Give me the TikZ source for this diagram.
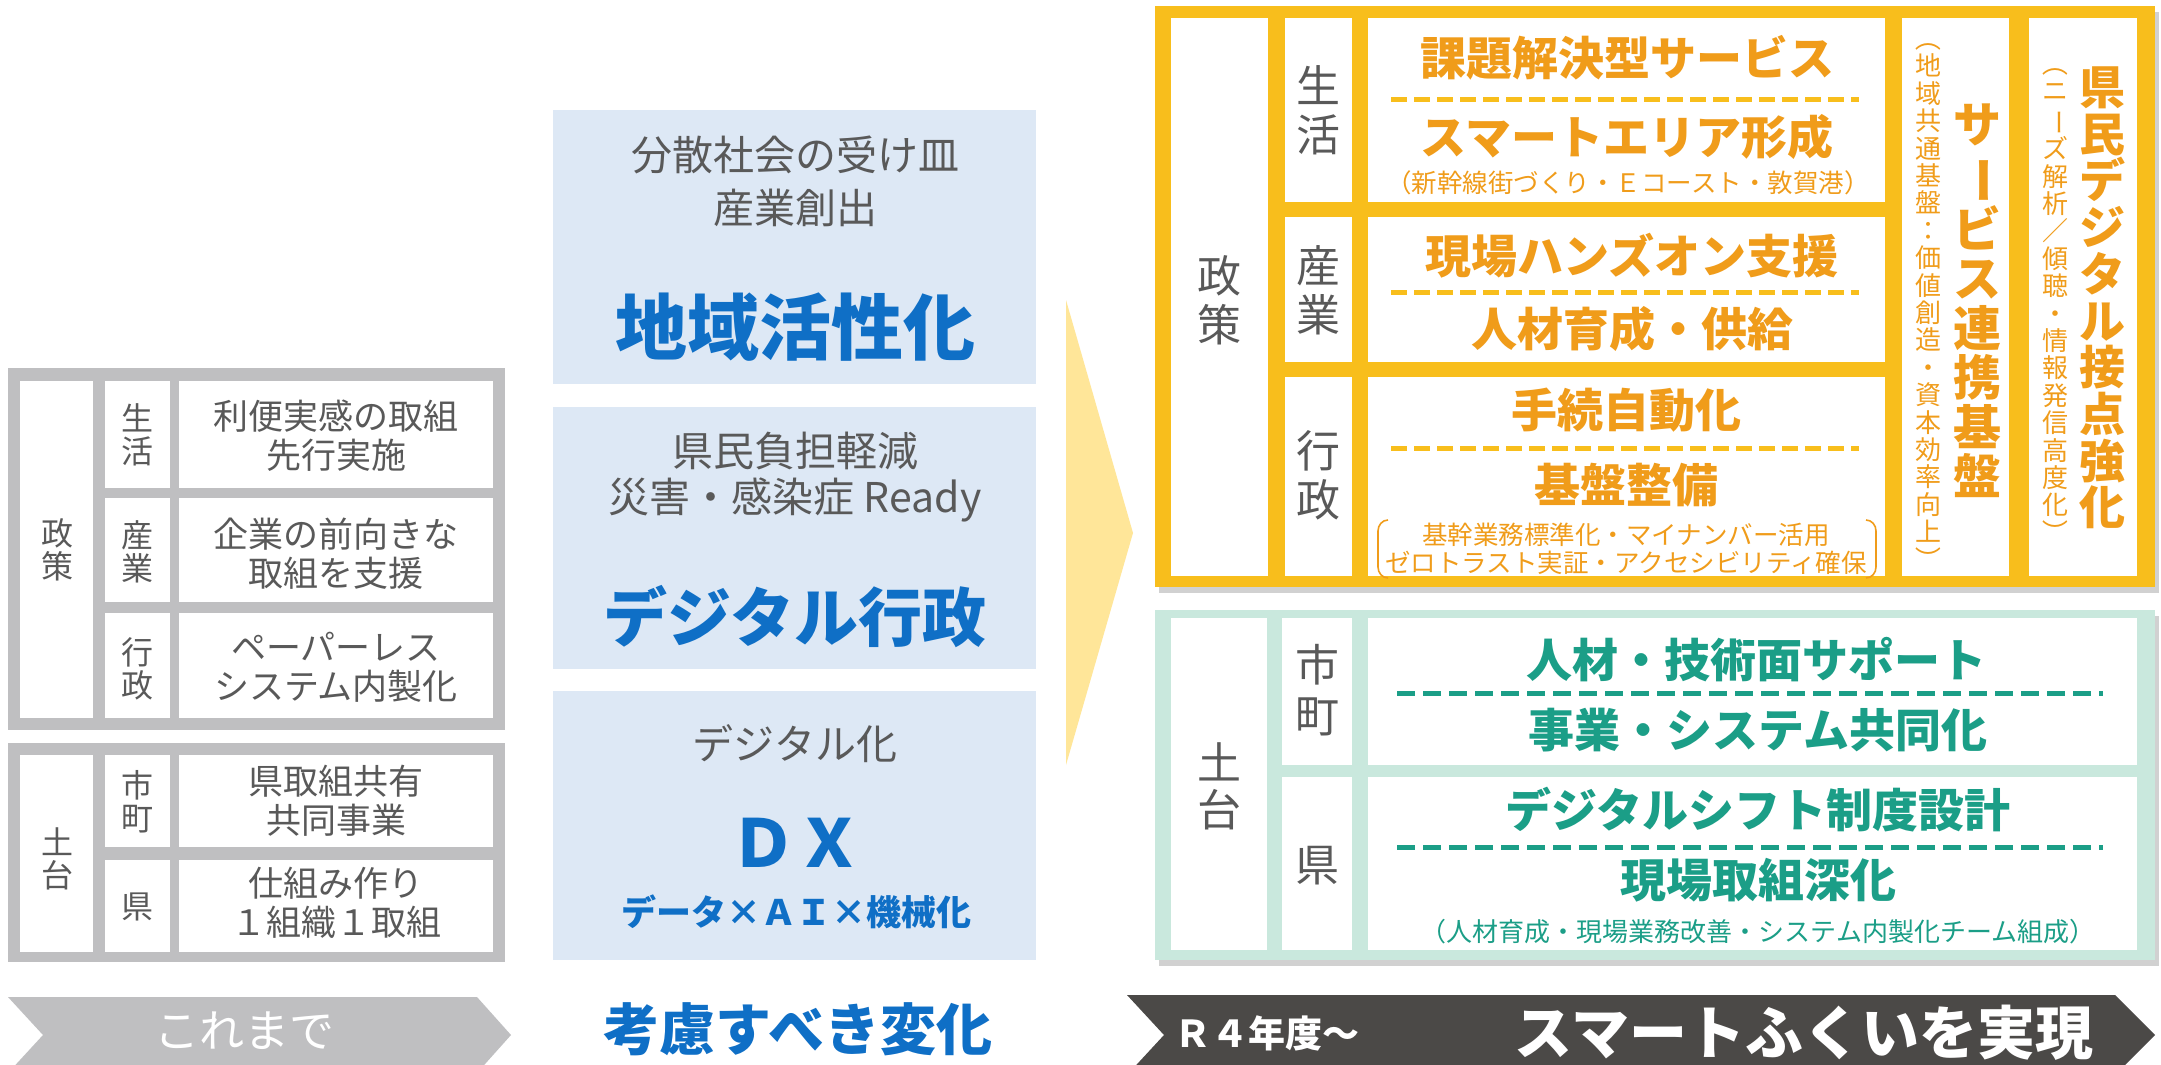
\documentclass[tikz,border=0pt]{standalone}
\usepackage{fontspec}
\setmainfont{Noto Sans CJK JP}
\usepackage{graphicx}
\definecolor{gpanel}{HTML}{BFBFC1}
\definecolor{txtgray}{HTML}{595959}
\definecolor{bluebox}{HTML}{DDE8F5}
\definecolor{bluetxt}{HTML}{0F6FC6}
\definecolor{arrowy}{HTML}{FFE699}
\definecolor{ygold}{HTML}{F8BE1C}
\definecolor{yorange}{HTML}{F09C1A}
\definecolor{tealbox}{HTML}{C9E8DD}
\definecolor{tealtxt}{HTML}{1B9E87}
\definecolor{darkb}{HTML}{4B4947}
\newcommand{\rotch}[1]{\rotatebox[origin=c]{-90}{#1}}
\begin{document}
\begin{tikzpicture}[x=1pt,y=-1pt,
  txt/.style={align=center, inner sep=0pt},
  gtxt/.style={txt, text=txtgray, font=\fontsize{35}{39}\selectfont},
  glab/.style={txt, text=txtgray, font=\fontsize{32}{33}\selectfont},
  mtxt/.style={txt, text=txtgray, font=\fontsize{41}{50}\selectfont},
  btxt/.style={txt, text=bluetxt, font=\bfseries\fontsize{#1}{#1}\selectfont},
  rlab/.style={txt, text=txtgray, font=\fontsize{44}{49}\selectfont},
  otxt/.style={txt, text=yorange, font=\bfseries\fontsize{46}{48}\selectfont},
  osmall/.style={txt, text=yorange, font=\fontsize{25.5}{28}\selectfont},
  overt/.style={txt, text=yorange, font=\fontsize{26}{27.4}\selectfont},
  ttxt/.style={txt, text=tealtxt, font=\bfseries\fontsize{46}{48}\selectfont},
  tsmall/.style={txt, text=tealtxt, font=\fontsize{26}{28}\selectfont},
  ydash/.style={draw=ygold, line width=5pt, dash pattern=on 16pt off 7pt},
  tdash/.style={draw=tealtxt, line width=5pt, dash pattern=on 18pt off 8pt},
  shadowbox/.style={fill=black, opacity=0.18}
]
\useasboundingbox (0,0) rectangle (2161,1065);
\fill[white] (0,0) rectangle (2161,1065);

% ---------------- left panel (gray)
\fill[gpanel] (8,368) rectangle (505,730);
\fill[white] (20,381) rectangle (93,718);
\foreach \a/\b in {381/488, 498/602, 613/718}{
  \fill[white] (105,\a) rectangle (170,\b);
  \fill[white] (179,\a) rectangle (493,\b);
}
\fill[gpanel] (8,743) rectangle (505,962);
\fill[white] (20,755) rectangle (93,952);
\foreach \a/\b in {755/847, 860/952}{
  \fill[white] (105,\a) rectangle (170,\b);
  \fill[white] (179,\a) rectangle (493,\b);
}
\node[glab] (lseisaku) at (57,550) {政\\策};
\node[glab] (lseikatsu) at (137,435) {生\\活};
\node[glab] (lsangyo) at (137,552) {産\\業};
\node[glab] (lgyosei) at (137,669) {行\\政};
\node[glab] (ldodai) at (57,859) {土\\台};
\node[glab] (lshicho) at (137,802) {市\\町};
\node[glab] (lken) at (137,907) {県};
\node[gtxt] (lc1) at (336,436) {利便実感の取組\\先行実施};
\node[gtxt] (lc2) at (336,554) {企業の前向きな\\取組を支援};
\node[gtxt] (lc3) at (336,667) {ペーパーレス\\システム内製化};
\node[gtxt] (lc4) at (336,801) {県取組共有\\共同事業};
\node[gtxt] (lc5) at (336,903) {仕組み作り\\１組織１取組};

% ---------------- middle (blue)
\fill[bluebox] (553,110) rectangle (1036,384);
\fill[bluebox] (553,407) rectangle (1036,669);
\fill[bluebox] (553,691) rectangle (1036,960);
\node[mtxt, font=\fontsize{41}{53}\selectfont] (m1a) at (795,181) {分散社会の受け皿\\産業創出};
\node[btxt=72] (m1b) at (795,327) {地域活性化};
\node[mtxt, font=\fontsize{41}{46}\selectfont] (m2a) at (795,477) {県民負担軽減\\災害・感染症 Ready};
\node[btxt=64] (m2b) at (795,617) {デジタル行政};
\node[mtxt] (m3a) at (795,744) {デジタル化};
\node[btxt=66] (m3b) at (796,843) {ＤＸ};
\node[btxt=35] (m3c) at (796,912) {データ×ＡＩ×機械化};

% ---------------- arrow
\fill[arrowy] (1066,300) -- (1133,533) -- (1066,765) -- cycle;

% ---------------- right yellow panel
\fill[shadowbox] (1159,12) rectangle (2159,593);
\fill[ygold] (1155,6) rectangle (2155,587);
\fill[white] (1171,18) rectangle (1268,576);
\foreach \a/\b in {18/202, 217/362, 377/576}{
  \fill[white] (1285,\a) rectangle (1352,\b);
  \fill[white] (1368,\a) rectangle (1885,\b);
}
\fill[white] (1902,18) rectangle (2009,576);
\fill[white] (2029,18) rectangle (2137,576);
\node[rlab] (rseisaku) at (1219,300) {政\\策};
\node[rlab] (rseikatsu) at (1318,110) {生\\活};
\node[rlab] (rsangyo) at (1318,290) {産\\業};
\node[rlab] (rgyosei) at (1318,475) {行\\政};

\node[otxt] (y1) at (1627,58) {課題解決型サービス};
\coordinate (yd1a) at (1391,99); \coordinate (yd1b) at (1859,99);
\draw[ydash] (yd1a) -- (yd1b);
\node[otxt] (y2) at (1627,137) {スマートエリア形成};
\node[osmall] (y3) at (1628,183) {（新幹線街づくり・Ｅコースト・敦賀港）};
\node[otxt] (y4) at (1632,256) {現場ハンズオン支援};
\coordinate (yd2a) at (1391,292); \coordinate (yd2b) at (1859,292);
\draw[ydash] (yd2a) -- (yd2b);
\node[otxt] (y5) at (1632,329) {人材育成・供給};
\node[otxt] (y6) at (1626,410) {手続自動化};
\coordinate (yd3a) at (1391,448); \coordinate (yd3b) at (1859,448);
\draw[ydash] (yd3a) -- (yd3b);
\node[otxt] (y7) at (1626,485) {基盤整備};
\node[osmall] (y8) at (1626,535) {基幹業務標準化・マイナンバー活用};
\node[osmall] (y9) at (1626,563) {ゼロトラスト実証・アクセシビリティ確保};
\coordinate (bl1) at (1388,520); \coordinate (bl2) at (1378,531);
\coordinate (bl3) at (1378,567); \coordinate (bl4) at (1388,578);
\draw[yorange, line width=1.6pt] (bl1) to[out=180,in=90] (bl2) -- (bl3) to[out=-90,in=180] (bl4);
\coordinate (br1) at (1866,520); \coordinate (br2) at (1876,531);
\coordinate (br3) at (1876,567); \coordinate (br4) at (1866,578);
\draw[yorange, line width=1.6pt] (br1) to[out=0,in=90] (br2) -- (br3) to[out=-90,in=0] (br4);

\node[overt] (svsub) at (1928,299) {\rotch{（}\\地\\域\\共\\通\\基\\盤\\：\\価\\値\\創\\造\\・\\資\\本\\効\\率\\向\\上\\\rotch{）}};
\node[txt, text=yorange, font=\bfseries\fontsize{48}{49.5}\selectfont] (svmain) at (1977,301) {サ\\\rotch{ー}\\ビ\\ス\\連\\携\\基\\盤};
\node[overt] (knsub) at (2055,298) {\rotch{（}\\ニ\\\rotch{ー}\\ズ\\解\\析\\／\\傾\\聴\\・\\情\\報\\発\\信\\高\\度\\化\\\rotch{）}};
\node[txt, text=yorange, font=\bfseries\fontsize{46}{46.7}\selectfont] (knmain) at (2102,298) {県\\民\\デ\\ジ\\タ\\ル\\接\\点\\強\\化};

% ---------------- right teal panel
\fill[shadowbox] (1159,616) rectangle (2159,966);
\fill[tealbox] (1155,610) rectangle (2155,960);
\fill[white] (1171,618) rectangle (1267,950);
\foreach \a/\b in {618/765, 777/950}{
  \fill[white] (1282,\a) rectangle (1352,\b);
  \fill[white] (1368,\a) rectangle (2137,\b);
}
\node[rlab, font=\fontsize{44}{47}\selectfont] (rdodai) at (1219,786) {土\\台};
\node[rlab, font=\fontsize{44}{51}\selectfont] (rshicho) at (1317,690) {市\\町};
\node[rlab] (rken) at (1317,866) {県};
\node[ttxt] (t1) at (1756,660) {人材・技術面サポート};
\coordinate (td1a) at (1397,693); \coordinate (td1b) at (2103,693);
\draw[tdash] (td1a) -- (td1b);
\node[ttxt] (t2) at (1758,730) {事業・システム共同化};
\node[ttxt] (t3) at (1758,810) {デジタルシフト制度設計};
\coordinate (td2a) at (1397,847); \coordinate (td2b) at (2103,847);
\draw[tdash] (td2a) -- (td2b);
\node[ttxt] (t4) at (1758,880) {現場取組深化};
\node[tsmall] (t5) at (1758,932) {（人材育成・現場業務改善・システム内製化チーム組成）};

% ---------------- bottom banners
\fill[gpanel] (8,997) -- (477,997) -- (511,1035) -- (477,1073) -- (8,1073) -- (43,1035) -- cycle;
\node[txt, text=white, font=\fontsize{45}{45}\selectfont] (kore) at (244,1031) {これまで};
\node[btxt=56] (kouryo) at (798,1029) {考慮すべき変化};
\fill[darkb] (1127,995) -- (2115,995) -- (2155,1035) -- (2115,1075) -- (1127,1075) -- (1164,1035) -- cycle;
\node[txt, anchor=west, text=white, font=\bfseries\fontsize{37}{37}\selectfont] (r4) at (1174,1033) {Ｒ４年度～};
\node[txt, text=white, font=\bfseries\fontsize{58}{58}\selectfont] (smart) at (1804,1033) {スマートふくいを実現};
\end{tikzpicture}
\end{document}
